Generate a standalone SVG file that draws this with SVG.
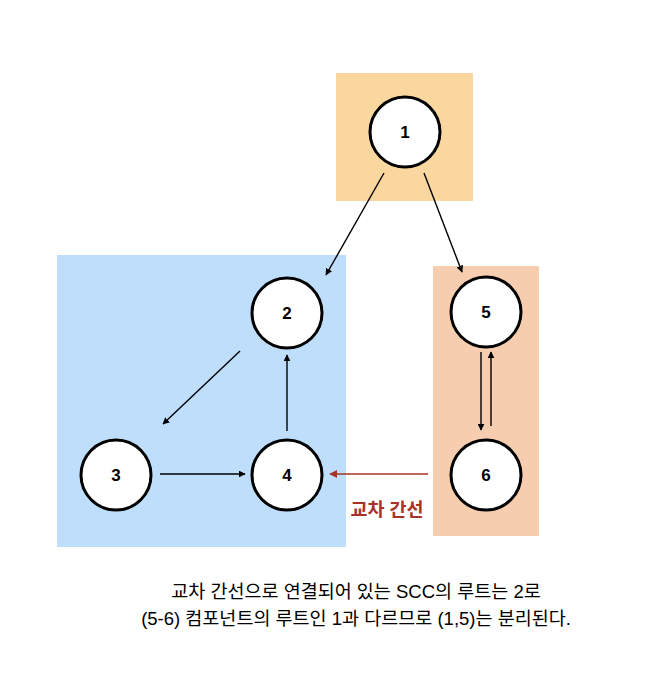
<svg xmlns="http://www.w3.org/2000/svg" width="648" height="688" viewBox="0 0 648 688">
<style>
.node circle{fill:#fff;stroke:#000;stroke-width:3}
.node text{font-family:"Liberation Sans",Arial,sans-serif;font-size:17px;font-weight:bold;text-anchor:middle;dominant-baseline:central;fill:#000}
.edge{stroke:#000;stroke-width:1.4;fill:none;marker-end:url(#ah)}
.cross{stroke:#A93226;stroke-width:1.6;fill:none;marker-end:url(#ahr)}
.note{font-family:"Liberation Sans","Noto Sans CJK KR",sans-serif;font-size:18.5px;text-anchor:middle;fill:#000}
</style>
<defs>
<marker id="ah" viewBox="0 0 10 10" refX="9" refY="5" markerWidth="7" markerHeight="7" markerUnits="userSpaceOnUse" orient="auto"><path d="M0,0 L10,5 L0,10 z" fill="#000"/></marker>
<marker id="ahr" viewBox="0 0 10 10" refX="9" refY="5" markerWidth="8" markerHeight="8" markerUnits="userSpaceOnUse" orient="auto"><path d="M0,0 L10,5 L0,10 z" fill="#A93226"/></marker>
</defs>
<rect width="648" height="688" fill="#fff"/>
<g id="regions">
<rect x="336" y="73" width="137" height="128" fill="#F9D79F"/>
<rect x="57" y="255" width="289" height="292" fill="#BEDEFB"/>
<rect x="433" y="266" width="106" height="270" fill="#F7CDB0"/>
</g>
<g id="connectors">
<line class="edge" x1="384" y1="173" x2="326" y2="275"/>
<line class="edge" x1="424" y1="173" x2="462" y2="272"/>
<line class="edge" x1="240" y1="351" x2="163" y2="424"/>
<line class="edge" x1="287" y1="431" x2="287" y2="355"/>
<line class="edge" x1="160" y1="474" x2="245" y2="474"/>
<line class="edge" x1="481" y1="352" x2="481" y2="430"/>
<line class="edge" x1="491" y1="426" x2="491" y2="352"/>
<line class="cross" x1="428" y1="474" x2="330" y2="474"/>
<text x="387" y="516" font-family="'Liberation Sans','Noto Sans CJK KR',sans-serif" font-size="18.5" font-weight="bold" fill="#A93226" text-anchor="middle">교차 간선</text>
</g>
<g id="n1" class="node"><circle cx="405" cy="132" r="35"/><text x="405" y="132">1</text></g>
<g id="n2" class="node"><circle cx="287" cy="313" r="35"/><text x="287" y="313">2</text></g>
<g id="n3" class="node"><circle cx="116" cy="475" r="35"/><text x="116" y="475">3</text></g>
<g id="n4" class="node"><circle cx="287" cy="475" r="35"/><text x="287" y="475">4</text></g>
<g id="n5" class="node"><circle cx="486" cy="312" r="35"/><text x="486" y="312">5</text></g>
<g id="n6" class="node"><circle cx="486" cy="475" r="35"/><text x="486" y="475">6</text></g>
<g id="caption">
<text class="note" x="356" y="598">교차 간선으로 연결되어 있는 SCC의 루트는 2로</text>
<text class="note" x="356" y="625">(5-6) 컴포넌트의 루트인 1과 다르므로 (1,5)는 분리된다.</text>
</g>
</svg>
